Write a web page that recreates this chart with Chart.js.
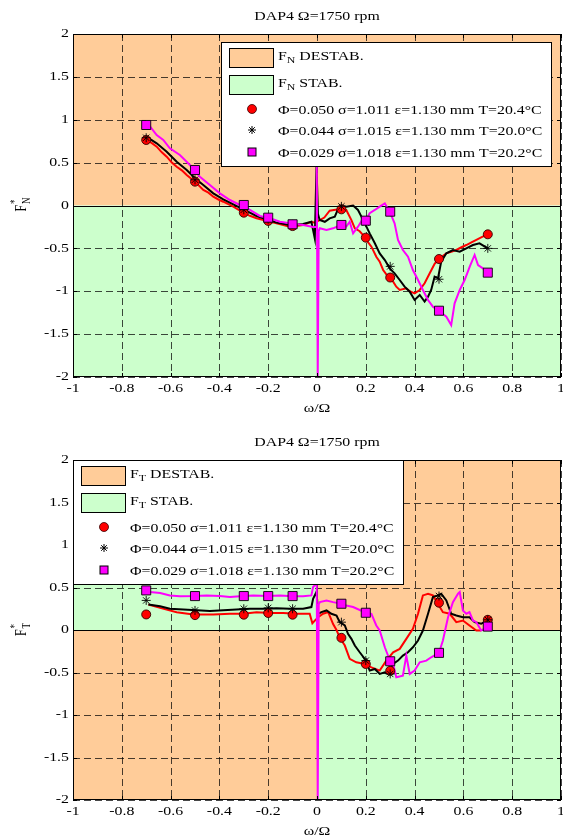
<!DOCTYPE html>
<html>
<head>
<meta charset="utf-8">
<script src="https://cdn.jsdelivr.net/npm/chart.js@4.4.0/dist/chart.umd.min.js"></script>
<style>
  body { margin: 0; background: #fff; overflow: hidden; }
  #wrap { position: relative; width: 563px; height: 838px; }
  canvas { position: absolute; left: 0; }
</style>
</head>
<body>
<div id="wrap">
  <canvas id="chartN" width="563" height="420" style="top:0"></canvas>
  <canvas id="chartT" width="563" height="418" style="top:420px"></canvas>
</div>
<script>
// ---- data ----
const chartTitle = 'DAP4 \u03A9=1750 rpm'
const xTitle = '\u03C9/\u03A9'
const xTicks = [-1, -0.8, -0.6, -0.4, -0.2, 0, 0.2, 0.4, 0.6, 0.8, 1]
const yTicks = [2, 1.5, 1, 0.5, 0, -0.5, -1, -1.5, -2]
const seriesLabels = [
  '\u03A6=0.050 \u03C3=1.011 \u03B5=1.130 mm T=20.4\u00B0C',
  '\u03A6=0.044 \u03C3=1.015 \u03B5=1.130 mm T=20.0\u00B0C',
  '\u03A6=0.029 \u03C3=1.018 \u03B5=1.130 mm T=20.2\u00B0C',
]
const markX = [-0.7, -0.5, -0.3, -0.2, -0.1, 0.1, 0.2, 0.3, 0.5, 0.7]

// F_N (top)
const fnRedX = [-0.698,-0.678,-0.657,-0.636,-0.616,-0.595,-0.575,-0.554,-0.534,-0.5,-0.466,-0.445,-0.425,-0.404,-0.384,-0.343,-0.302,-0.275,-0.248,-0.207,-0.166,-0.111,-0.057,-0.023,-0.01,
  0.011,0.03,0.052,0.075,0.097,0.12,0.141,0.155,0.175,0.189,0.202,0.223,0.243,0.257,0.271,0.291,0.312,0.325,0.339,0.366,0.38,0.4,0.421,0.441,0.462,0.482,0.499,0.53,0.55,0.571,0.59,0.612,0.633,0.653,0.675,0.698]
const fnRedY = [0.764,0.73,0.686,0.62,0.569,0.5,0.452,0.41,0.356,0.278,0.181,0.15,0.103,0.07,0.044,-0.014,-0.084,-0.12,-0.149,-0.177,-0.208,-0.247,-0.227,-0.189,-0.2,
  -0.17,-0.14,-0.06,-0.05,-0.045,-0.052,-0.17,-0.266,-0.3,-0.344,-0.402,-0.48,-0.597,-0.655,-0.752,-0.83,-0.888,-0.947,-0.985,-0.966,-1.0,-1.024,-0.985,-0.907,-0.791,-0.68,-0.624,-0.558,-0.54,-0.519,-0.49,-0.461,-0.43,-0.402,-0.37,-0.336]
const fnBlackX = [-0.698,-0.657,-0.616,-0.575,-0.534,-0.5,-0.466,-0.425,-0.384,-0.343,-0.302,-0.248,-0.207,-0.166,-0.111,-0.057,-0.023,-0.009,-0.002,0.004,
  0.011,0.032,0.052,0.073,0.087,0.1,0.12,0.148,0.168,0.182,0.196,0.216,0.237,0.257,0.278,0.298,0.318,0.339,0.359,0.38,0.4,0.421,0.441,0.455,0.468,0.482,0.496,0.509,0.53,0.557,0.585,0.612,0.639,0.666,0.7]
const fnBlackY = [0.8,0.725,0.627,0.511,0.414,0.317,0.239,0.142,0.072,0.014,-0.044,-0.122,-0.161,-0.2,-0.227,-0.216,-0.189,-0.383,0.45,-0.1,
  -0.169,-0.19,-0.15,-0.13,-0.037,0.0,-0.014,0.0,-0.052,-0.13,-0.208,-0.325,-0.441,-0.558,-0.636,-0.733,-0.791,-0.869,-0.947,-1.005,-1.102,-1.044,-1.121,-1.063,-0.985,-0.83,-0.849,-0.655,-0.558,-0.519,-0.539,-0.5,-0.461,-0.441,-0.5]
const fnMagX = [-0.7,-0.684,-0.657,-0.63,-0.603,-0.562,-0.521,-0.48,-0.439,-0.398,-0.357,-0.316,-0.275,-0.234,-0.193,-0.152,-0.111,-0.057,-0.016,-0.004,-0.001,0.003,0.007,
  0.0115,0.0387,0.066,0.097,0.12,0.134,0.148,0.168,0.189,0.198,0.216,0.237,0.257,0.278,0.298,0.318,0.332,0.352,0.373,0.393,0.414,0.434,0.455,0.475,0.499,0.53,0.55,0.564,0.585,0.605,0.626,0.646,0.66,0.68,0.698]
const fnMagY = [0.94,0.92,0.822,0.764,0.667,0.589,0.472,0.336,0.239,0.142,0.064,0.006,-0.052,-0.122,-0.149,-0.189,-0.208,-0.227,-0.25,-0.25,0.5,-2,-0.3,
  -0.266,-0.286,-0.266,-0.227,-0.247,-0.19,-0.325,-0.247,-0.15,-0.177,-0.09,-0.052,-0.014,0.025,-0.072,-0.208,-0.402,-0.519,-0.597,-0.752,-0.869,-0.985,-1.102,-1.18,-1.227,-1.296,-1.394,-1.141,-0.985,-0.869,-0.714,-0.577,-0.694,-0.733,-0.783]
const fnRedMark = [0.764, 0.278, -0.084, -0.18, -0.24, -0.045, -0.375, -0.84, -0.624, -0.336]
const fnBlackMark = [0.79, 0.3, -0.05, -0.16, -0.22, -0.01, -0.2, -0.71, -0.86, -0.5]
const fnMagMark = [0.939, 0.414, 0.006, -0.142, -0.219, -0.227, -0.177, -0.072, -1.227, -0.783]

// F_T (bottom)
const ftRedX = [-0.691,-0.643,-0.575,-0.507,-0.425,-0.357,-0.302,-0.248,-0.193,-0.139,-0.084,-0.03,-0.019,
  0.0046,0.025,0.046,0.066,0.08,0.093,0.114,0.134,0.161,0.196,0.223,0.257,0.284,0.312,0.339,0.366,0.393,0.414,0.434,0.455,0.475,0.493,0.516,0.544,0.571,0.598,0.625,0.653,0.673]
const ftRedY = [0.3,0.26,0.21,0.183,0.183,0.191,0.191,0.21,0.2,0.2,0.191,0.191,0.08,
  0.151,0.191,0.21,0.07,0.0,-0.09,-0.183,-0.34,-0.38,-0.4,-0.439,-0.478,-0.36,-0.262,-0.222,-0.104,0.014,0.191,0.407,0.427,0.407,0.321,0.21,0.191,0.092,0.112,0.053,-0.006,-0.006]
const ftBlackX = [-0.691,-0.643,-0.603,-0.548,-0.493,-0.439,-0.384,-0.33,-0.275,-0.221,-0.166,-0.111,-0.057,-0.023,-0.016,-0.002,0.005,
  0.018,0.039,0.059,0.08,0.093,0.114,0.127,0.141,0.155,0.175,0.196,0.216,0.237,0.257,0.278,0.291,0.312,0.332,0.352,0.373,0.393,0.414,0.434,0.455,0.475,0.496,0.509,0.53,0.55,0.571,0.598,0.625,0.646,0.673,0.7]
const ftBlackY = [0.3,0.28,0.25,0.24,0.232,0.225,0.232,0.24,0.25,0.25,0.256,0.25,0.25,0.27,0.367,0.45,0.19,
  0.21,0.23,0.191,0.171,0.092,0.053,-0.045,-0.104,-0.183,-0.262,-0.34,-0.478,-0.458,-0.517,-0.497,-0.517,-0.399,-0.36,-0.301,-0.262,-0.203,-0.124,-0.006,0.191,0.387,0.407,0.427,0.348,0.191,0.171,0.151,0.151,0.092,0.073,0.12]
const ftMagX = [-0.705,-0.684,-0.643,-0.603,-0.562,-0.5,-0.452,-0.398,-0.357,-0.302,-0.261,-0.2,-0.152,-0.1,-0.057,-0.023,-0.016,-0.001,0.003,0.007,
  0.0115,0.039,0.066,0.1,0.12,0.148,0.2,0.223,0.243,0.257,0.278,0.3,0.312,0.325,0.352,0.366,0.38,0.4,0.421,0.448,0.468,0.5,0.516,0.537,0.557,0.578,0.585,0.598,0.612,0.625,0.639,0.653,0.673,0.7]
const ftMagY = [0.466,0.447,0.434,0.407,0.397,0.399,0.407,0.4,0.387,0.399,0.407,0.399,0.407,0.397,0.397,0.407,0.505,0.55,-2,0.3,
  0.328,0.348,0.328,0.309,0.289,0.27,0.203,0.191,0.053,-0.006,-0.203,-0.368,-0.399,-0.556,-0.537,-0.301,-0.517,-0.478,-0.38,-0.36,-0.321,-0.269,-0.124,0.151,0.328,0.427,0.447,0.23,0.191,0.21,0.112,0.092,-0.006,0.033]
const ftRedMark = [0.183, 0.175, 0.18, 0.2, 0.18, -0.092, -0.4, -0.48, 0.321, 0.12]
const ftBlackMark = [0.348, 0.23, 0.25, 0.26, 0.25, 0.092, -0.36, -0.517, 0.4, 0.12]
const ftMagMark = [0.466, 0.399, 0.399, 0.399, 0.399, 0.309, 0.203, -0.368, -0.269, 0.04]

// ---- styling ----
const ORANGE = '#FFCC99'
const GREEN = '#CCFFCC'
const RED = '#FF0000'
const MAG = '#FF00FF'
const FONT = '"Liberation Serif", "Times New Roman", serif'
const SX = 1.32   // the figure's text is stretched horizontally

function pts(xs, ys) {
  return xs.map((x, i) => ({ x, y: ys[i] }))
}

function sText(ctx, str, x, y, align, size) {
  ctx.save()
  ctx.font = size + 'px ' + FONT
  ctx.textBaseline = 'middle'
  ctx.textAlign = 'left'
  const w = ctx.measureText(str).width * SX
  const x0 = align === 'center' ? x - w / 2 : align === 'right' ? x - w : x
  ctx.translate(x0, y)
  ctx.scale(SX, 1)
  ctx.fillStyle = '#000'
  ctx.fillText(str, 0, 0)
  ctx.restore()
  return w
}

function drawMarker(ctx, style, x, y) {
  ctx.save()
  ctx.lineWidth = 1
  if (style === 'circle') {
    ctx.beginPath(); ctx.arc(x, y, 4.5, 0, Math.PI * 2)
    ctx.fillStyle = RED; ctx.fill(); ctx.strokeStyle = '#300'; ctx.lineWidth = 0.8; ctx.stroke()
  } else if (style === 'star') {
    const r = 4
    ctx.strokeStyle = '#000'
    ctx.beginPath()
    ctx.moveTo(x - r, y); ctx.lineTo(x + r, y)
    ctx.moveTo(x, y - r); ctx.lineTo(x, y + r)
    ctx.moveTo(x - r * 0.7, y - r * 0.7); ctx.lineTo(x + r * 0.7, y + r * 0.7)
    ctx.moveTo(x - r * 0.7, y + r * 0.7); ctx.lineTo(x + r * 0.7, y - r * 0.7)
    ctx.stroke()
  } else {
    ctx.fillStyle = MAG; ctx.strokeStyle = '#000'
    ctx.fillRect(x - 4, y - 4, 8, 8); ctx.strokeRect(x - 4, y - 4, 8, 8)
  }
  ctx.restore()
}

const figPlugin = {
  id: 'fig',
  beforeDatasetsDraw(chart, args, opts) {
    const { ctx, chartArea: a, scales: { x, y } } = chart
    const x0 = x.getPixelForValue(0), y0 = y.getPixelForValue(0)
    ctx.save()
    // stability zones
    if (opts.quadrants) {
      ctx.fillStyle = GREEN; ctx.fillRect(a.left, a.top, x0 - a.left, y0 - a.top)
      ctx.fillStyle = ORANGE; ctx.fillRect(a.left, y0, x0 - a.left, a.bottom - y0)
      ctx.fillStyle = ORANGE; ctx.fillRect(x0, a.top, a.right - x0, y0 - a.top)
      ctx.fillStyle = GREEN; ctx.fillRect(x0, y0, a.right - x0, a.bottom - y0)
    } else {
      ctx.fillStyle = ORANGE; ctx.fillRect(a.left, a.top, a.width, y0 - a.top)
      ctx.fillStyle = GREEN; ctx.fillRect(a.left, y0, a.width, a.bottom - y0)
    }
    // dashed grid
    ctx.strokeStyle = 'rgba(0,0,0,0.72)'
    ctx.lineWidth = 1
    ctx.setLineDash([7, 4])
    ctx.beginPath()
    xTicks.forEach(v => {
      const px = Math.round(x.getPixelForValue(v)) + 0.5
      ctx.moveTo(px, a.top); ctx.lineTo(px, a.bottom)
    })
    yTicks.forEach(v => {
      const py = Math.round(y.getPixelForValue(v)) + 0.5
      ctx.moveTo(a.left, py); ctx.lineTo(a.right, py)
    })
    ctx.stroke()
    ctx.setLineDash([])
    // zone boundaries
    ctx.strokeStyle = '#000'
    ctx.beginPath()
    ctx.moveTo(a.left, Math.round(y0) + 0.5); ctx.lineTo(a.right, Math.round(y0) + 0.5)
    if (opts.quadrants) { ctx.moveTo(Math.round(x0) + 0.5, a.top); ctx.lineTo(Math.round(x0) + 0.5, a.bottom) }
    ctx.stroke()
    ctx.restore()
  },
  afterDatasetsDraw(chart, args, opts) {
    const { ctx, chartArea: a, scales: { x, y } } = chart
    ctx.save()
    // box and inward ticks
    ctx.strokeStyle = '#000'
    ctx.lineWidth = 1
    ctx.strokeRect(a.left + 0.5, a.top + 0.5, a.width - 1, a.height - 1)
    ctx.beginPath()
    xTicks.forEach(v => {
      const px = Math.round(x.getPixelForValue(v)) + 0.5
      ctx.moveTo(px, a.bottom); ctx.lineTo(px, a.bottom - 4)
      ctx.moveTo(px, a.top); ctx.lineTo(px, a.top + 4)
    })
    yTicks.forEach(v => {
      const py = Math.round(y.getPixelForValue(v)) + 0.5
      ctx.moveTo(a.left, py); ctx.lineTo(a.left + 4, py)
      ctx.moveTo(a.right, py); ctx.lineTo(a.right - 4, py)
    })
    ctx.stroke()
    // tick labels
    xTicks.forEach(v => sText(ctx, String(v), x.getPixelForValue(v), a.bottom + 12, 'center', 12))
    yTicks.forEach(v => sText(ctx, String(v), a.left - 4, y.getPixelForValue(v), 'right', 12))
    // titles
    sText(ctx, chartTitle, (a.left + a.right) / 2, a.top - 17, 'center', 12)
    sText(ctx, xTitle, (a.left + a.right) / 2, a.bottom + 32, 'center', 12)
    // y title F*_sub, rotated
    ctx.save()
    ctx.translate(26, (a.top + a.bottom) / 2)
    ctx.scale(SX, 1)
    ctx.rotate(-Math.PI / 2)
    ctx.fillStyle = '#000'
    ctx.textBaseline = 'alphabetic'
    ctx.font = '12px ' + FONT
    ctx.fillText('F', -6, 0)
    ctx.font = '9px ' + FONT
    ctx.fillText(opts.sub, 1.5, 3)
    ctx.fillText('*', 1.5, -6)
    ctx.restore()
    // legend
    const lx = a.left + opts.legendX, ly = a.top + opts.legendY
    ctx.fillStyle = '#fff'
    ctx.fillRect(lx, ly, 331, 125)
    ctx.strokeStyle = '#000'
    ctx.strokeRect(lx + 0.5, ly + 0.5, 330, 124)
    const patches = [[ORANGE, 6, ' DESTAB.'], [GREEN, 33, ' STAB.']]
    patches.forEach(([c, dy, word]) => {
      ctx.fillStyle = c
      ctx.fillRect(lx + 8, ly + dy, 45, 20)
      ctx.strokeRect(lx + 8.5, ly + dy + 0.5, 44, 19)
      const ty = ly + dy + 9
      let tx = lx + 57
      tx += sText(ctx, 'F', tx, ty, 'left', 12)
      tx += sText(ctx, opts.sub, tx, ty + 4, 'left', 9)
      sText(ctx, word, tx, ty, 'left', 12)
    })
    const styles = ['circle', 'star', 'rect']
    const rows = [69, 90, 112]
    styles.forEach((s, i) => {
      drawMarker(ctx, s, lx + 31, ly + rows[i] - 2)
      sText(ctx, seriesLabels[i], lx + 57, ly + rows[i], 'left', 12)
    })
    ctx.restore()
  },
}

function buildChart(canvas, d, pad, opts) {
  const line = (xs, ys, color) => ({
    data: pts(xs, ys), showLine: true, pointRadius: 0, pointHoverRadius: 0,
    borderColor: color, borderWidth: 2, fill: false, tension: 0,
  })
  const mark = (ys, style, bg, radius, edge) => ({
    data: pts(markX, ys), showLine: false, pointStyle: style, pointRadius: radius,
    pointHoverRadius: radius, backgroundColor: bg, borderColor: edge, borderWidth: 0.9,
  })
  return new Chart(canvas, {
    type: 'scatter',
    data: {
      datasets: [
        mark(d.magMark, 'rect', MAG, 6.4, '#000'),
        mark(d.blackMark, 'star', '#000', 4.5, '#000'),
        mark(d.redMark, 'circle', RED, 4.5, '#300'),
        line(d.magX, d.magY, MAG),
        line(d.blackX, d.blackY, '#000'),
        line(d.redX, d.redY, RED),
      ],
    },
    options: {
      responsive: false,
      animation: false,
      layout: { padding: pad, autoPadding: false },
      scales: {
        x: { type: 'linear', min: -1, max: 1, display: false },
        y: { type: 'linear', min: -2, max: 2, display: false },
      },
      plugins: { legend: { display: false }, tooltip: { enabled: false }, fig: opts },
    },
    plugins: [figPlugin],
  })
}

buildChart(document.getElementById('chartN'), {
  redX: fnRedX, redY: fnRedY, blackX: fnBlackX, blackY: fnBlackY, magX: fnMagX, magY: fnMagY,
  redMark: fnRedMark, blackMark: fnBlackMark, magMark: fnMagMark,
}, { left: 73, right: 2, top: 34, bottom: 43 }, { sub: 'N', quadrants: false, legendX: 148, legendY: 8 })

buildChart(document.getElementById('chartT'), {
  redX: ftRedX, redY: ftRedY, blackX: ftBlackX, blackY: ftBlackY, magX: ftMagX, magY: ftMagY,
  redMark: ftRedMark, blackMark: ftBlackMark, magMark: ftMagMark,
}, { left: 73, right: 2, top: 40, bottom: 38 }, { sub: 'T', quadrants: true, legendX: 0, legendY: 0 })
</script>
</body>
</html>
